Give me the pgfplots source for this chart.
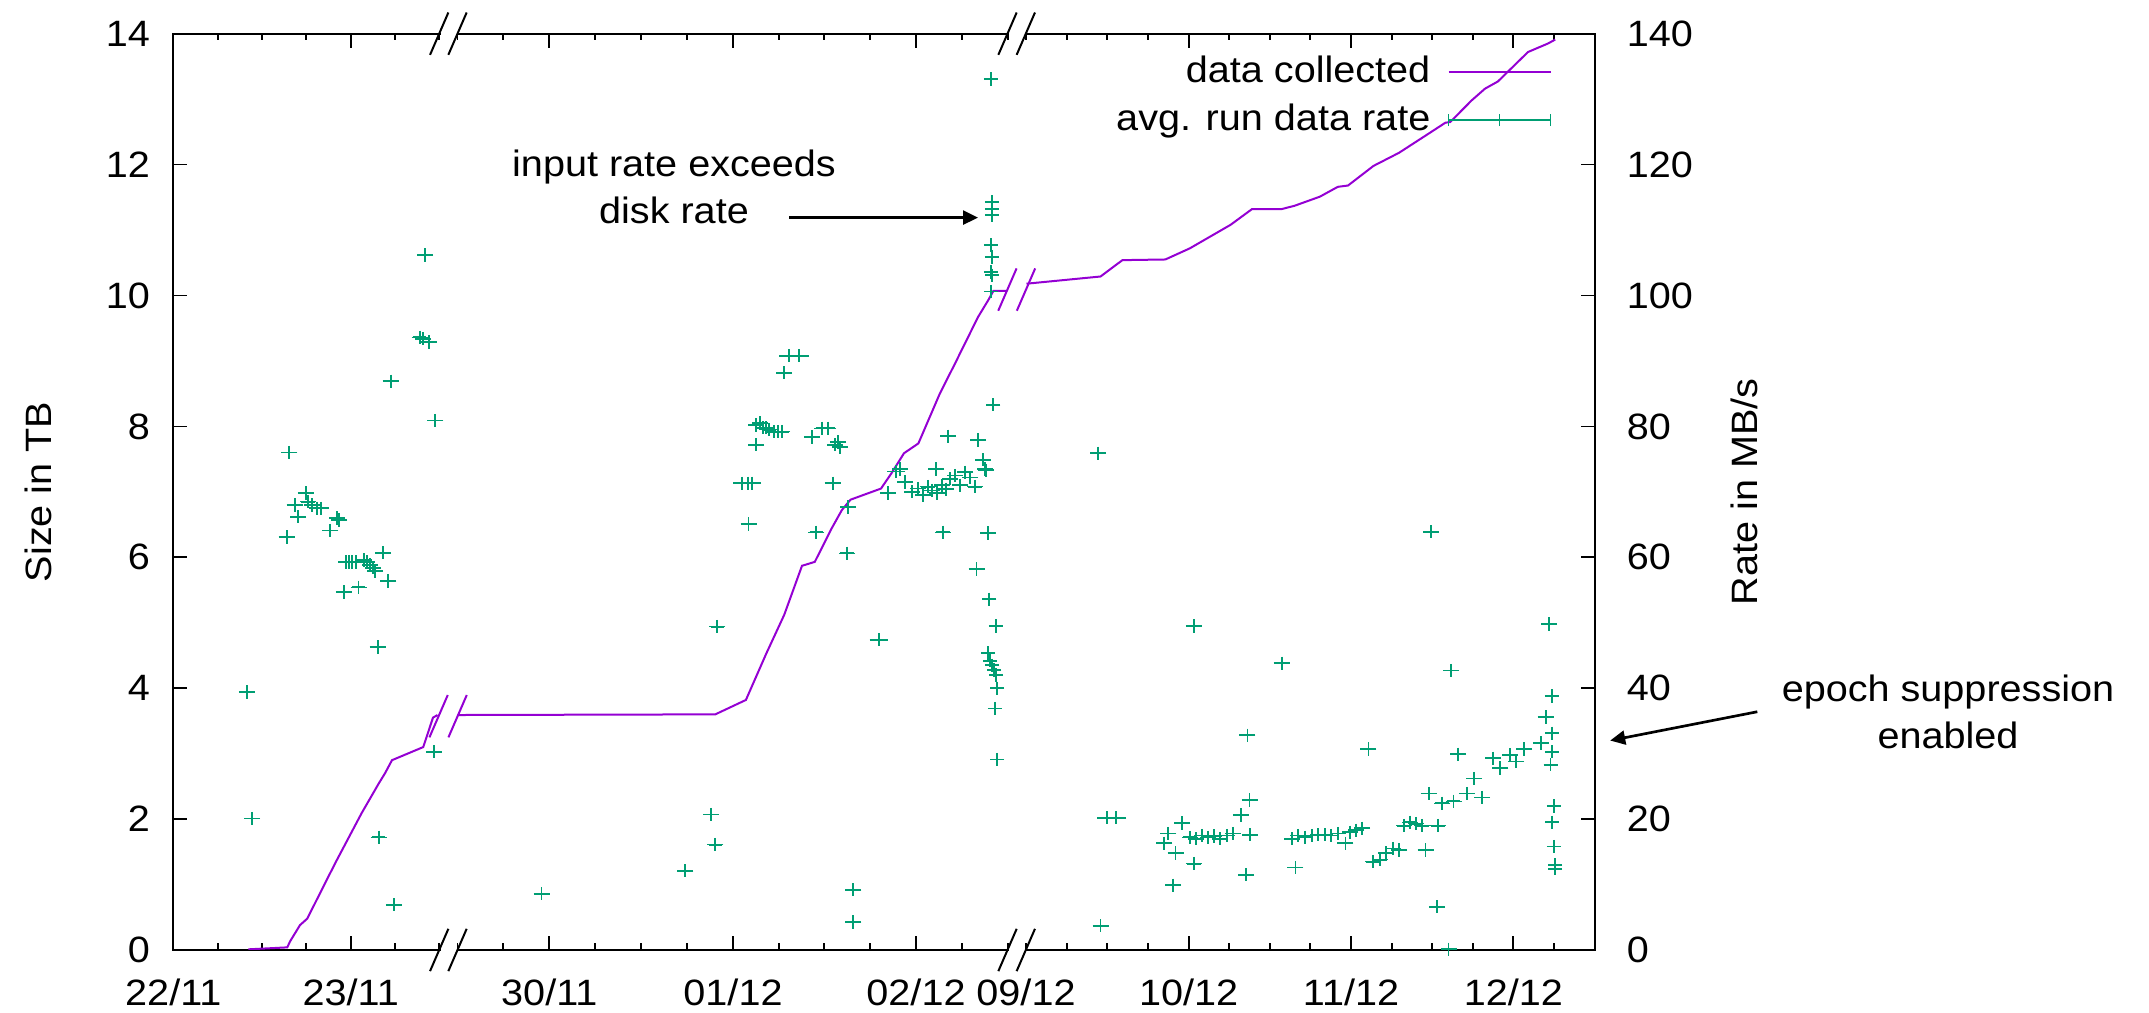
\documentclass[border=0pt]{standalone}
\usepackage{fontspec}
\setmainfont{Liberation Sans}[FakeStretch=1.08]
\usepackage{pgfplots}
\pgfplotsset{compat=1.18}
\usepackage{pgfplotstable}
\usetikzlibrary{arrows.meta}
\definecolor{dcpurple}{HTML}{9400D3}
\definecolor{rategreen}{HTML}{009E73}
\newcommand{\fs}{\fontsize{11pt}{14pt}\selectfont}

% x positions are plot positions on the broken time axis (3 segments)
\pgfplotstableread{
x y ex
246.9 39.4 2
252.2 20.1 2
286.6 63.1 2
289.3 76.0 2
294.6 68.0 2
298.2 66.2 2
305.8 69.8 2
308.0 68.5 2
312.0 68.0 2
317.0 67.5 2
321.0 67.5 2
330.4 64.1 2
337.0 66.0 2
339.0 65.7 2
343.8 54.7 2
346.0 59.3 2
349.0 59.3 2
352.0 59.3 2
356.0 59.3 2
358.5 55.4 2
364.0 59.6 2
367.0 59.3 2
370.0 58.8 2
373.0 58.4 2
375.0 57.9 2
377.7 46.3 2
378.6 17.2 2
383.0 60.7 2
388.4 56.4 2
390.6 86.9 2
393.8 6.9 2
419.6 93.6 2
423.0 93.4 2
425.0 106.2 2
428.6 92.9 2
433.9 30.3 2
435.3 80.9 2
541.5 8.6 2
685.3 12.1 2
711.2 20.7 2
715.3 16.1 2
717.3 49.4 2
742.0 71.3 3
748.0 71.3 3
752.0 71.3 3
748.5 65.1 2
756.0 77.2 2
756.0 80.2 2
760.0 80.5 2
763.0 79.8 2
766.0 79.8 2
769.0 79.5 2
774.0 79.2 2
778.0 79.2 2
782.0 79.2 2
784.2 88.2 2
789.0 90.8 4
799.0 90.8 4
812.0 78.4 2
816.3 63.8 2
822.4 79.7 2
828.0 79.7 2
832.7 71.3 2
835.0 77.2 2
838.0 77.6 2
840.0 76.8 2
847.0 60.6 2
848.0 67.7 2
853.3 9.2 2
853.3 4.3 2
878.6 47.4 3
888.0 69.8 2
896.4 73.1 3
900.0 73.5 2
905.0 71.5 2
912.0 70.0 2
918.0 70.5 2
923.0 69.5 2
928.0 70.8 2
932.0 70.2 2
936.0 73.5 2
937.0 69.8 2
942.0 71.0 2
942.9 63.8 2
946.0 70.4 2
948.0 78.5 2
950.0 72.0 2
955.0 72.5 2
960.0 71.0 2
965.0 73.0 2
970.0 72.2 2
975.0 70.8 2
976.5 58.2 2
978.0 77.9 2
983.0 74.9 2
985.0 73.5 2
986.0 73.3 2
988.0 63.7 2
989.3 53.6 1
990.8 133.1 1
991.8 114.3 1
991.8 113.2 1
991.8 112.3 1
990.8 107.7 1
991.8 105.9 1
990.8 103.6 1
991.8 103.1 1
990.8 100.6 1
993.4 83.3 1
995.9 49.5 1
988.0 45.4 1
990.0 44.2 1
992.0 43.5 1
994.0 42.8 1
996.0 42.0 1
997.0 40.0 1
994.9 36.9 1
997.0 29.1 1
1098.0 75.9 2
1100.5 3.7 2
1107.0 20.2 4
1116.0 20.2 4
1164.3 16.3 2
1168.4 17.8 2
1173.0 9.9 2
1175.5 14.8 2
1182.1 19.4 2
1190.0 17.2 2
1193.9 49.5 2
1193.9 13.2 2
1196.0 17.0 2
1202.0 17.5 2
1208.0 17.2 2
1214.0 17.4 2
1220.0 17.0 2
1227.0 17.5 2
1233.0 17.8 2
1240.8 20.6 2
1246.0 11.5 2
1247.4 32.8 2
1249.5 22.9 2
1250.0 17.6 2
1281.6 43.8 2
1292.0 17.0 2
1295.4 12.6 2
1298.0 17.5 2
1305.0 17.2 2
1312.0 17.5 2
1318.0 17.6 2
1325.0 17.6 2
1331.0 17.5 2
1338.0 17.8 2
1345.4 16.3 2
1350.0 18.0 2
1356.0 18.3 2
1362.0 18.6 2
1368.4 30.7 2
1373.0 13.5 2
1380.0 13.8 2
1386.0 14.8 2
1393.0 15.5 2
1399.0 15.3 2
1404.0 19.0 2
1410.0 19.5 2
1416.0 19.3 2
1422.0 19.0 2
1425.5 15.3 2
1428.6 23.9 2
1431.0 63.9 2
1437.2 6.6 2
1438.0 19.0 2
1442.0 22.4 2
1448.5 0.1 2
1451.0 42.7 2
1453.5 22.7 2
1458.0 29.9 2
1466.9 23.9 2
1474.0 26.2 2
1482.2 23.3 2
1493.1 29.3 2
1500.3 27.8 2
1509.9 29.8 2
1516.1 28.8 2
1524.2 30.7 2
1540.9 31.6 2
1545.7 35.6 2
1549.0 49.8 2
1550.5 28.3 1
1551.9 38.8 1
1551.9 33.1 1
1551.9 30.3 1
1553.8 22.0 1
1551.9 19.5 1
1553.8 15.8 1
1555.2 13.0 1
1555.2 12.4 1
}\ratedata

\pgfplotsset{
  basestyle/.style={
    at={(0,0)}, anchor=south west, scale only axis,
    width=426.51pt, height=274.89pt,
    xmin=173.3, xmax=1595,
    major tick length=4.2pt, minor tick length=2pt,
    every tick/.style={black, line width=0.5pt},
    axis line style={line width=0.7pt},
    tick label style={font=\fs},
    label style={font=\fs},
    /pgf/number format/assume math mode=true,
  }
}
\newcommand{\brk}[3]{\draw[#3, line width=0.6pt] (axis cs:#1,#2) ++(-2.75pt,-6.35pt) -- ++(5.5pt,12.7pt);}
\newcommand{\gap}[3]{\fill[white] ([yshift=-1.3pt]axis cs:#1,#3) rectangle ([yshift=1.3pt]axis cs:#2,#3);}

\begin{document}
\begin{tikzpicture}
\useasboundingbox (-51.99pt,-18.9pt) rectangle (592.71pt,285pt);
\begin{axis}[basestyle,
  tick align=inside,
  ymin=0, ymax=14, ytick={0,2,...,14}, ytick pos=left,
  xtick={173.3,350.7,549.3,733,916,1188.7,1351,1513.3},
  xticklabels={22/11,23/11,30/11,01/12,02/12,10/12,11/12,12/12},
  extra x ticks={1026}, extra x tick labels={09/12},
  extra x tick style={major tick length=2pt},
  minor xtick={217.7,262,306.3,395,439.3,457.5,503.3,595.3,641.3,687,778.7,824.3,870,962.3,1008,1066.7,1107.3,1148,1229.3,1269.7,1310.3,1391.7,1432.3,1472.7,1554},
  xtick pos=both,
  ylabel={Size in TB},
  ylabel style={at={(axis description cs:-0.0952,0.5)}, anchor=center},
  yticklabel style={xshift=-3.5pt},
  xticklabel style={yshift=-5pt},
]
\addplot[dcpurple, line width=0.6pt] coordinates {
(248.3,0.01) (287.3,0.04) (290,0.13) (300,0.38) (307.3,0.48) (326.7,1.07) (336.7,1.37) (361.6,2.09) (378.6,2.54) (385,2.70) (392,2.90) (423.2,3.10) (433,3.55) (437.5,3.59)};
\addplot[dcpurple, line width=0.6pt] coordinates {
(457.6,3.59) (715.3,3.60) (745.9,3.82) (766.3,4.53) (784.2,5.12) (802,5.87) (814.8,5.93) (831.6,6.44) (841.8,6.72) (850.5,6.88) (881,7.05) (891.3,7.28) (904,7.59) (918.4,7.74) (939.8,8.50) (955,8.96) (978,9.67) (988.3,9.93) (993.4,10.07) (1006,10.07)};
\addplot[dcpurple, line width=0.6pt] coordinates {
(1026.5,10.18) (1100.5,10.29) (1122.4,10.54) (1165.3,10.55) (1189.8,10.72) (1230.6,11.08) (1252,11.32) (1281.6,11.32) (1294.4,11.37) (1319.9,11.51) (1337.8,11.66) (1348,11.68) (1373.5,11.98) (1399,12.18) (1426.3,12.45) (1445.4,12.64) (1450.2,12.65) (1471.6,12.98) (1485,13.16) (1497.9,13.27) (1528,13.72) (1548,13.85) (1555.2,13.91)};
\end{axis}
\begin{axis}[basestyle,
  ymin=0, ymax=140, ytick={0,20,...,140},
  axis y line*=right, hide x axis, ytick pos=right,
  tick align=inside,
  ylabel={Rate in MB/s},
  ylabel style={at={(axis description cs:1.1048,0.5)}, anchor=center},
  yticklabel style={xshift=6pt},
  clip=false,
  legend plot pos=right, legend cell align=right,
  legend style={draw=none, fill=none, font=\fs, at={(axis description cs:0.977,0.991)}, anchor=north east, column sep=3.2pt, row sep=1pt},
]
\addlegendimage{legend image code/.code={\draw[dcpurple, line width=0.6pt] (0pt,0pt) -- (30.6pt,0pt);}}
\addlegendentry{data collected}
\addplot[legend image code/.code={
    \draw[rategreen, line width=0.5pt] (0pt,0pt) -- (30.6pt,0pt);
    \draw[rategreen, line width=0.5pt] (0pt,-1.85pt) -- (0pt,1.85pt) (15.3pt,-1.85pt) -- (15.3pt,1.85pt) (30.6pt,-1.85pt) -- (30.6pt,1.85pt);},
  only marks, mark=+, mark size=2pt, rategreen, line width=0.55pt,
  error bars/.cd, x dir=both, x explicit,
  error bar style={line width=0.5pt, rategreen},
  error mark options={mark size=1.8pt, line width=0.5pt, rategreen}]
  table[x=x, y=y, x error=ex] {\ratedata};
\addlegendentry{avg. run data rate}
% axis breaks
\gap{440.5}{456.5}{0}
\gap{440.5}{456.5}{140}
\gap{1009}{1024.5}{0}
\gap{1009}{1024.5}{140}
\brk{439.2}{0}{black}\brk{457.5}{0}{black}
\brk{439.2}{140}{black}\brk{457.5}{140}{black}
\brk{1007.5}{0}{black}\brk{1025.8}{0}{black}
\brk{1007.5}{140}{black}\brk{1025.8}{140}{black}
\brk{438.6}{35.72}{dcpurple}\brk{457.6}{35.72}{dcpurple}
\brk{1007.4}{100.9}{dcpurple}\brk{1026}{100.9}{dcpurple}
% annotations
\node[font=\fs, align=center] at (axis cs:674,116.6) {input rate exceeds\\disk rate};
\draw[-{Triangle[length=4.5pt,width=4.2pt]}, line width=0.8pt] (axis cs:789.3,111.9) -- (axis cs:978,111.9);
\node[font=\fs, align=center] at (axis cs:1948,36.4) {epoch suppression\\enabled};
\draw[-{Triangle[length=4.5pt,width=4.2pt]}, line width=0.8pt] (axis cs:1757.3,36.4) -- (axis cs:1610.2,32.0);
\end{axis}
\end{tikzpicture}
\end{document}
